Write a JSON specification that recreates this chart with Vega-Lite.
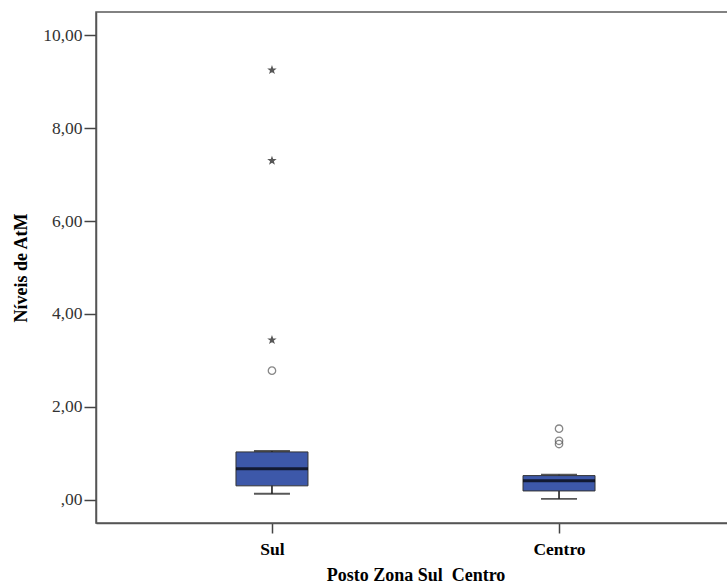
{
  "$schema": "https://vega.github.io/schema/vega-lite/v6.json",
  "width": 639,
  "height": 511,
  "autosize": {"type": "none"},
  "padding": {"left": 96, "top": 12, "right": 0, "bottom": 64},
  "background": "white",
  "config": {
    "view": {"stroke": "#5a5a5a", "strokeWidth": 1.5},
    "font": "Liberation Serif"
  },
  "datasets": {
    "boxes": [
      {"posto": "Sul", "lower": 0.13, "q1": 0.30, "median": 0.67, "q3": 1.03, "upper": 1.05},
      {"posto": "Centro", "lower": 0.02, "q1": 0.19, "median": 0.41, "q3": 0.52, "upper": 0.54}
    ],
    "outliers": [
      {"posto": "Sul", "value": 9.25, "tipo": "extremo"},
      {"posto": "Sul", "value": 7.30, "tipo": "extremo"},
      {"posto": "Sul", "value": 3.44, "tipo": "extremo"},
      {"posto": "Sul", "value": 2.78, "tipo": "atipico"},
      {"posto": "Centro", "value": 1.53, "tipo": "atipico"},
      {"posto": "Centro", "value": 1.27, "tipo": "atipico"},
      {"posto": "Centro", "value": 1.20, "tipo": "atipico"}
    ]
  },
  "encoding": {
    "x": {
      "field": "posto",
      "type": "nominal",
      "sort": ["Sul", "Centro"],
      "scale": {"type": "point", "padding": 0.613, "domain": ["Sul", "Centro"]},
      "axis": {
        "title": "Posto Zona Sul\u00a0 Centro",
        "titleFont": "Liberation Serif",
        "titleFontSize": 18,
        "titleFontWeight": "bold",
        "titleColor": "#000",
        "titlePadding": 9,
        "labelFont": "Liberation Serif",
        "labelFontSize": 17.5,
        "labelFontWeight": "bold",
        "labelColor": "#000",
        "labelAngle": 0,
        "labelPadding": 7,
        "tickSize": 10,
        "tickColor": "#444",
        "tickWidth": 1.5,
        "domainColor": "#555",
        "domainWidth": 1.5
      }
    }
  },
  "layer": [
    {
      "data": {"name": "boxes"},
      "mark": {"type": "rule", "color": "#111", "strokeWidth": 1.5},
      "encoding": {
        "y": {
          "field": "lower",
          "type": "quantitative",
          "scale": {"domain": [-0.5, 10.5], "nice": false, "zero": false},
          "axis": {
            "title": "Níveis de AtM",
            "titleFont": "Liberation Serif",
            "titleFontSize": 18,
            "titleFontWeight": "bold",
            "titleColor": "#000",
            "titlePadding": 12,
            "values": [0, 2, 4, 6, 8, 10],
            "labelExpr": "datum.value == 0 ? ',00' : replace(format(datum.value, '.2f'), '.', ',')",
            "labelFont": "Liberation Serif",
            "labelFontSize": 17.5,
            "labelColor": "#333",
            "labelPadding": 2,
            "tickSize": 12,
            "tickColor": "#444",
            "tickWidth": 1.5,
            "domainColor": "#555",
            "domainWidth": 1.5,
            "grid": false
          }
        },
        "y2": {"field": "upper"}
      }
    },
    {
      "data": {"name": "boxes"},
      "mark": {"type": "tick", "color": "#111", "size": 36, "thickness": 1.8, "orient": "horizontal"},
      "encoding": {"y": {"field": "lower", "type": "quantitative"}}
    },
    {
      "data": {"name": "boxes"},
      "mark": {"type": "tick", "color": "#111", "size": 36, "thickness": 1.8, "orient": "horizontal"},
      "encoding": {"y": {"field": "upper", "type": "quantitative"}}
    },
    {
      "data": {"name": "boxes"},
      "mark": {"type": "bar", "size": 72, "fill": "#3D58A9", "stroke": "#333", "strokeWidth": 1},
      "encoding": {
        "y": {"field": "q1", "type": "quantitative"},
        "y2": {"field": "q3"}
      }
    },
    {
      "data": {"name": "boxes"},
      "mark": {"type": "tick", "color": "#000", "size": 72, "thickness": 3, "orient": "horizontal"},
      "encoding": {"y": {"field": "median", "type": "quantitative"}}
    },
    {
      "data": {"name": "outliers"},
      "mark": {"type": "point", "strokeWidth": 1.3},
      "encoding": {
        "y": {"field": "value", "type": "quantitative"},
        "size": {
          "field": "tipo",
          "type": "nominal",
          "scale": {"domain": ["atipico", "extremo"], "range": [55, 36]},
          "legend": null
        },
        "shape": {
          "field": "tipo",
          "type": "nominal",
          "scale": {"domain": ["atipico", "extremo"], "range": ["circle", "M0,-1L0.235,-0.324L0.951,-0.309L0.38,0.124L0.588,0.809L0,0.4L-0.588,0.809L-0.38,0.124L-0.951,-0.309L-0.235,-0.324Z"]},
          "legend": null
        },
        "fill": {
          "field": "tipo",
          "type": "nominal",
          "scale": {"domain": ["atipico", "extremo"], "range": ["transparent", "#111"]},
          "legend": null
        },
        "stroke": {
          "field": "tipo",
          "type": "nominal",
          "scale": {"domain": ["atipico", "extremo"], "range": ["#555", "#111"]},
          "legend": null
        }
      }
    }
  ]
}
